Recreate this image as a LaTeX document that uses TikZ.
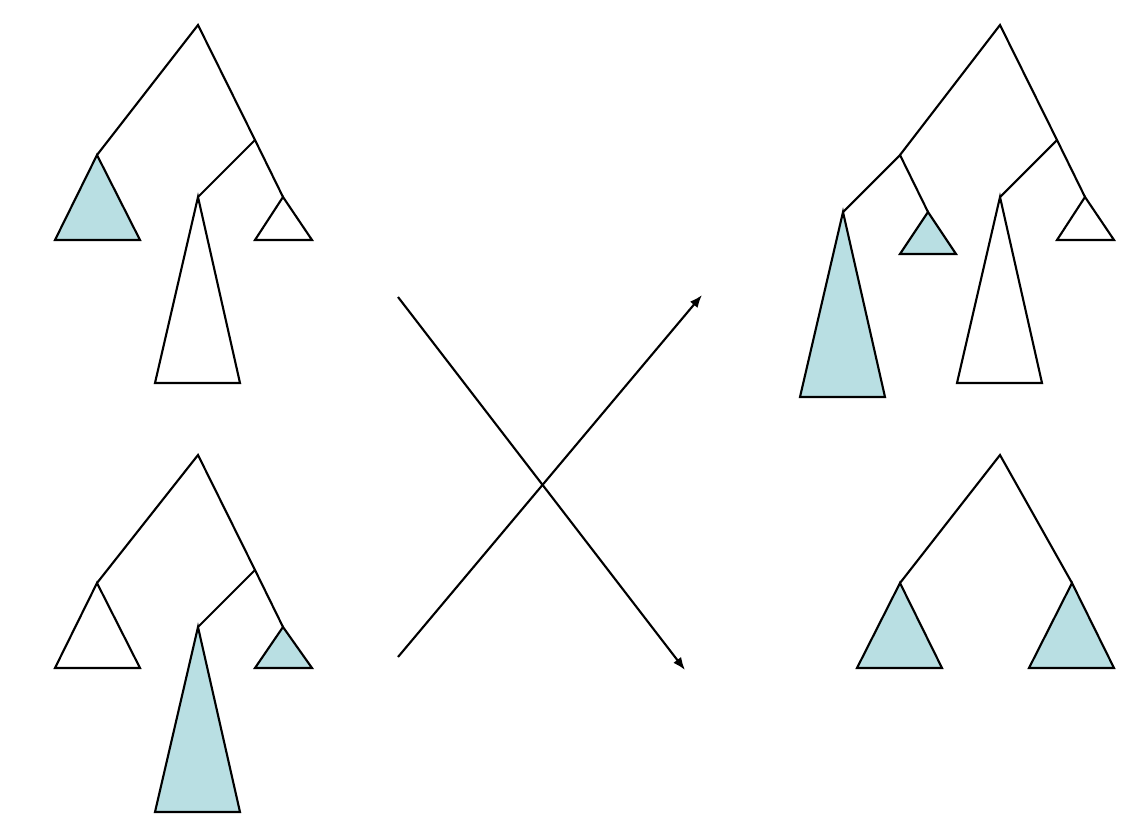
\documentclass[tikz,border=0pt]{standalone}
\usepackage{tikz}
\usetikzlibrary{arrows.meta}
\definecolor{subfill}{HTML}{B9DFE3}

\begin{document}
\begin{tikzpicture}[x=0.01cm,y=-0.01cm,line width=0.6pt,line join=miter,
    branch/.style={draw=black},
    subtree/.style={draw=black,fill=white},
    marked/.style={draw=black,fill=subfill},
    swap/.style={draw=black,-{Latex[length=3.6pt,width=2.8pt]}}]
  \useasboundingbox (0,0) rectangle (1145,818);

  % upper left tree
  \coordinate (a) at (198,25);
  \coordinate (a1) at (97,155);
  \coordinate (a2) at (255,140);
  \coordinate (a21) at (198,197);
  \coordinate (a22) at (283,197);
  \draw[branch] (a1) -- (a) -- (a2) -- (a22);
  \draw[branch] (a2) -- (a21);
  \draw[marked] (a1) -- (55,240) -- (140,240) -- cycle;
  \draw[subtree] (a21) -- (155,383) -- (240,383) -- cycle;
  \draw[subtree] (a22) -- (255,240) -- (312,240) -- cycle;

  % lower left tree
  \coordinate (b) at (198,455);
  \coordinate (b1) at (97,583);
  \coordinate (b2) at (255,570);
  \coordinate (b21) at (198,627);
  \coordinate (b22) at (283,627);
  \draw[branch] (b1) -- (b) -- (b2) -- (b22);
  \draw[branch] (b2) -- (b21);
  \draw[subtree] (b1) -- (55,668) -- (140,668) -- cycle;
  \draw[marked] (b21) -- (155,812) -- (240,812) -- cycle;
  \draw[marked] (b22) -- (255,668) -- (312,668) -- cycle;

  % upper right tree
  \coordinate (c) at (1000,25);
  \coordinate (c1) at (900,155);
  \coordinate (c2) at (1057,140);
  \coordinate (c11) at (843,212);
  \coordinate (c12) at (928,212);
  \coordinate (c21) at (1000,197);
  \coordinate (c22) at (1085,197);
  \draw[branch] (c1) -- (c) -- (c2) -- (c22);
  \draw[branch] (c2) -- (c21);
  \draw[branch] (c11) -- (c1) -- (c12);
  \draw[marked] (c11) -- (800,397) -- (885,397) -- cycle;
  \draw[marked] (c12) -- (900,254) -- (956,254) -- cycle;
  \draw[subtree] (c21) -- (957,383) -- (1042,383) -- cycle;
  \draw[subtree] (c22) -- (1057,240) -- (1114,240) -- cycle;

  % lower right tree
  \coordinate (d) at (1000,455);
  \coordinate (d1) at (900,583);
  \coordinate (d2) at (1072,583);
  \draw[branch] (d1) -- (d) -- (d2);
  \draw[marked] (d1) -- (857,668) -- (942,668) -- cycle;
  \draw[marked] (d2) -- (1029,668) -- (1114,668) -- cycle;

  % crossing arrows
  \coordinate (s1) at (398,297);
  \coordinate (t1) at (685,670);
  \coordinate (s2) at (398,657);
  \coordinate (t2) at (702,295);
  \draw[swap] (s1) -- (t1);
  \draw[swap] (s2) -- (t2);
\end{tikzpicture}
\end{document}
